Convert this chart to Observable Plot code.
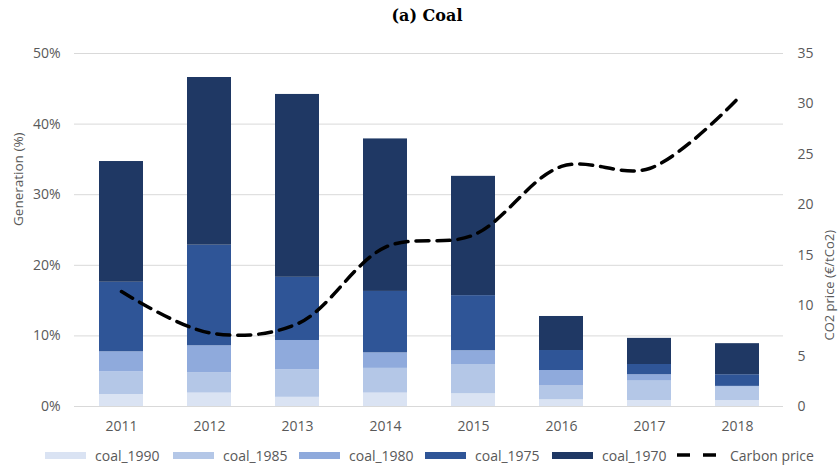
<!DOCTYPE html>
<html><head><meta charset="utf-8">
<script src="https://cdn.jsdelivr.net/npm/d3@7"></script>
<script src="https://cdn.jsdelivr.net/npm/@observablehq/plot@0.6"></script>
<style>
body{margin:0;background:#fff;width:839px;height:467px;overflow:hidden;font-family:"Open Sans",sans-serif;position:relative;}
#title{position:absolute;left:0;top:8px;width:854px;text-align:center;font:bold 16px/16px "DejaVu Serif",serif;color:#000;}
#chart{position:absolute;left:0;top:36px;}
#legend{position:absolute;top:446px;left:0;width:839px;height:18px;}
.item{position:absolute;top:0;display:flex;align-items:center;height:18px;font-size:14px;color:#595959;white-space:nowrap;}
.sw{width:41px;height:7px;margin-right:9px;}
</style>
</head><body>
<div id="title">(a) Coal</div>
<div id="chart"></div>
<div id="legend"></div>
<script>
const years = ["2011","2012","2013","2014","2015","2016","2017","2018"];
const seriesNames = ["coal_1990","coal_1985","coal_1980","coal_1975","coal_1970"];
const seriesColors = ["#dae3f3","#b4c7e7","#8faadc","#2f5597","#1f3864"];
const coal_1990 = [1.7, 1.9, 1.3, 1.9, 1.8, 0.95, 0.85, 0.85];
const coal_1985 = [3.2, 2.9, 3.9, 3.5, 4.15, 2.02, 2.75, 1.9];
const coal_1980 = [2.85, 3.8, 4.15, 2.2, 1.95, 2.13, 0.9, 0.1];
const coal_1975 = [9.85, 14.25, 8.95, 8.7, 7.8, 2.83, 1.45, 1.65];
const coal_1970 = [17.1, 23.75, 25.9, 21.6, 16.9, 4.82, 3.7, 4.4];
const carbonPrice = [11.4, 7.3, 8.2, 15.8, 17.0, 23.8, 23.6, 30.5];
const genTicks = [0, 10, 20, 30, 40, 50];
const priceTicks = [0, 5, 10, 15, 20, 25, 30, 35];
const genMax = 50, priceMax = 35;

const seriesValues = [coal_1990, coal_1985, coal_1980, coal_1975, coal_1970];
const rows = seriesNames.flatMap((s, i) => years.map((y, j) => ({year: y, series: s, value: seriesValues[i][j]})));
const priceRows = years.map((y, j) => ({year: y, price: carbonPrice[j]}));
const toGen = v => v * genMax / priceMax;
const grey = "#595959";

const plot = Plot.plot({
  width: 839,
  height: 410,
  marginTop: 17,
  marginBottom: 40,
  marginLeft: 74,
  marginRight: 56,
  style: {fontFamily: "'Open Sans', sans-serif", fontSize: "14px", background: "#fff", overflow: "visible"},
  x: {domain: years, paddingInner: 0.5, paddingOuter: 0.25, axis: null},
  y: {domain: [0, genMax], axis: null},
  color: {domain: seriesNames, range: seriesColors},
  marks: [
    Plot.gridY(genTicks.slice(1), {stroke: "#d9d9d9", strokeOpacity: 1, strokeWidth: 1}),
    Plot.ruleY([0], {stroke: "#d9d9d9", strokeWidth: 1}),
    Plot.barY(rows, {x: "year", y: "value", fill: "series"}),
    Plot.line(priceRows, {x: "year", y: d => toGen(d.price), curve: "catmull-rom", stroke: "#000", strokeWidth: 3.5, strokeDasharray: "13,8"}),
    Plot.axisX({tickSize: 0, tickPadding: 15, color: grey, label: null, fontSize: 14}),
    Plot.axisY({anchor: "left", ticks: genTicks, tickFormat: d => d + "%", tickSize: 0, tickPadding: 14, color: grey, label: null, fontSize: 14}),
    Plot.axisY({anchor: "right", ticks: priceTicks.map(toGen), tickFormat: d => String(Math.round(d * priceMax / genMax)), tickSize: 0, tickPadding: 14, color: grey, label: null, fontSize: 14}),
    Plot.text(["Generation (%)"], {text: d => d, frameAnchor: "left", dx: -56, dy: -4, rotate: -90, fill: grey, fontSize: 13.5}),
    Plot.text(["CO2 price (€/tCo2)"], {text: d => d, frameAnchor: "right", dx: 46, rotate: -90, fill: grey, fontSize: 13})
  ]
});
document.getElementById("chart").appendChild(plot);

const legend = document.getElementById("legend");
const legendLeft = [45, 173, 299, 425, 552, 677];
seriesNames.forEach((s, i) => {
  const it = document.createElement("div");
  it.className = "item";
  it.style.left = legendLeft[i] + "px";
  it.innerHTML = `<span class="sw" style="background:${seriesColors[i]}"></span><span>${s}</span>`;
  legend.appendChild(it);
});
const lit = document.createElement("div");
lit.className = "item";
lit.style.left = legendLeft[5] + "px";
lit.innerHTML = `<svg width="40" height="8" style="margin-right:13px"><line x1="0" y1="4" x2="40" y2="4" stroke="#000" stroke-width="3.5" stroke-dasharray="13,13"/></svg><span>Carbon price</span>`;
legend.appendChild(lit);
</script>
</body></html>
